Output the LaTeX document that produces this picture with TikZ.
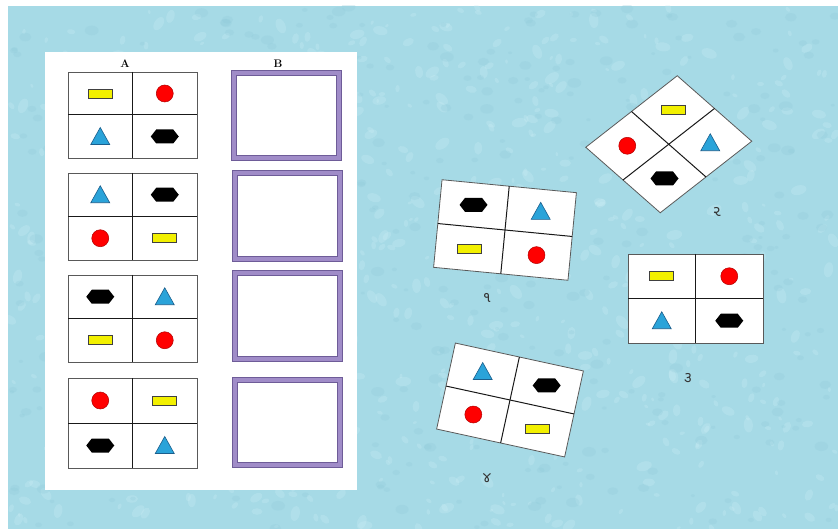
\documentclass[tikz,border=0pt]{standalone}
\usepackage{fontspec}
\newfontfamily\gujfont[Script=Gujarati]{Noto Sans Gujarati UI}
\usetikzlibrary{calc}
\definecolor{bgc}{HTML}{A6DAE6}
\definecolor{bgl}{HTML}{CDEEF5}
\definecolor{bgd}{HTML}{8FCADA}
\definecolor{tri}{HTML}{2AA3D9}
\definecolor{trid}{HTML}{1B5E8C}
\definecolor{ylw}{HTML}{F2F000}
\definecolor{purp}{HTML}{A08CC8}
\definecolor{purpd}{HTML}{6E5C98}
\tikzset{
  x=1pt, y=-1pt,
  yrect/.pic={\filldraw[fill=ylw, draw=black!75, line width=0.6pt] (-12,-4.5) rectangle (12,4.5);},
  rdot/.pic={\filldraw[fill=red, draw=red!70!black, line width=0.5pt] (0,0) circle (8.5);},
  btri/.pic={\filldraw[fill=tri, draw=trid, line width=0.6pt] (-9.5,8) -- (0,-9) -- (9.5,8) -- cycle;},
  bhex/.pic={\fill[black] (-14,0) -- (-8.5,-7) -- (8.5,-7) -- (14,0) -- (8.5,7) -- (-8.5,7) -- cycle;},
  gridline/.style={draw=black!90, line width=1pt},
  cardframe/.style={fill=white, draw=black!65, line width=0.8pt},
  numlabel/.style={font=\gujfont\fontsize{15}{15}\selectfont, text=black!80, inner sep=0pt},
  collabel/.style={font=\bfseries\fontsize{11}{11}\selectfont, inner sep=0pt},
  bbox/.style={draw=purp, line width=5pt, fill=white},
}
% \quadcard{w}{h}{tl}{tr}{bl}{br}
\newcommand{\quadcard}[6]{%
  \path[cardframe] (-#1/2,-#2/2) rectangle (#1/2,#2/2);
  \draw[gridline] (0,-#2/2) -- (0,#2/2);
  \draw[gridline] (-#1/2,0) -- (#1/2,0);
  \pic at (-#1/4,-#2/4) {#3};
  \pic at (#1/4,-#2/4) {#4};
  \pic at (-#1/4,#2/4) {#5};
  \pic at (#1/4,#2/4) {#6};
}
\newcommand{\answerbox}[4]{%
  \path[bbox] (#1+2.5,#2+2.5) rectangle (#3-2.5,#4-2.5);
  \draw[purpd, line width=0.6pt] (#1,#2) rectangle (#3,#4);
  \draw[purpd, line width=0.6pt] (#1+5,#2+5) rectangle (#3-5,#4-5);
}
\begin{document}
\begin{tikzpicture}
\useasboundingbox (0,0) rectangle (838,529);
\fill[white] (0,0) rectangle (838,529);
\fill[bgc] (8,6) rectangle (838,529);
\begin{scope}
\clip (8,6) rectangle (838,529);
\pgfmathsetseed{7}
\foreach \i in {1,...,700} {
  \pgfmathsetmacro{\px}{8+830*rnd}
  \pgfmathsetmacro{\py}{6+523*rnd}
  \pgfmathsetmacro{\pr}{2+6*rnd}
  \pgfmathsetmacro{\pa}{180*rnd}
  \fill[bgl, opacity=0.28, rotate around={\pa:(\px,\py)}] (\px,\py) ellipse ({\pr} and {\pr*0.6});
}
\foreach \i in {1,...,400} {
  \pgfmathsetmacro{\px}{8+830*rnd}
  \pgfmathsetmacro{\py}{6+523*rnd}
  \pgfmathsetmacro{\pr}{2+5*rnd}
  \fill[bgd, opacity=0.25] (\px,\py) ellipse ({\pr} and {\pr*0.7});
}
\end{scope}
% left panel
\fill[white] (45,52) rectangle (357,490);
\node[collabel] (labA) at (125,64) {A};
\node[collabel] (labB) at (278,64) {B};
% column A
\begin{scope}[shift={(132.5,115)}]
  \quadcard{129}{86}{yrect}{rdot}{btri}{bhex}
\end{scope}
\begin{scope}[shift={(132.5,216.5)}]
  \quadcard{129}{87}{btri}{bhex}{rdot}{yrect}
\end{scope}
\begin{scope}[shift={(132.5,318.5)}]
  \quadcard{129}{87}{bhex}{btri}{yrect}{rdot}
\end{scope}
\begin{scope}[shift={(132.5,423)}]
  \quadcard{129}{90}{rdot}{yrect}{bhex}{btri}
\end{scope}
% column B
\answerbox{231}{70}{341}{160}
\answerbox{232}{170}{342}{261}
\answerbox{232}{270}{342}{361}
\answerbox{232}{377}{342}{467}
% loose cards
\begin{scope}[shift={(505,230)}, rotate=-5.5]
  \quadcard{135}{88}{bhex}{btri}{yrect}{rdot}
\end{scope}
\node[numlabel] (n1) at (487,298) {૧};
\begin{scope}[shift={(668.75,144.25)}, cm={0.7625,0.596,-0.776,0.682,(0,0)}]
  \quadcard{120}{96}{rdot}{yrect}{bhex}{btri}
\end{scope}
\node[numlabel] (n2) at (717,212) {૨};
\begin{scope}[shift={(695.5,298.5)}]
  \quadcard{135}{89}{yrect}{rdot}{btri}{bhex}
\end{scope}
\node[numlabel] (n3) at (688,378) {૩};
\begin{scope}[shift={(510,400)}, rotate=-12.3]
  \quadcard{131}{88}{btri}{bhex}{rdot}{yrect}
\end{scope}
\node[numlabel] (n4) at (487,478) {૪};
\end{tikzpicture}
\end{document}
